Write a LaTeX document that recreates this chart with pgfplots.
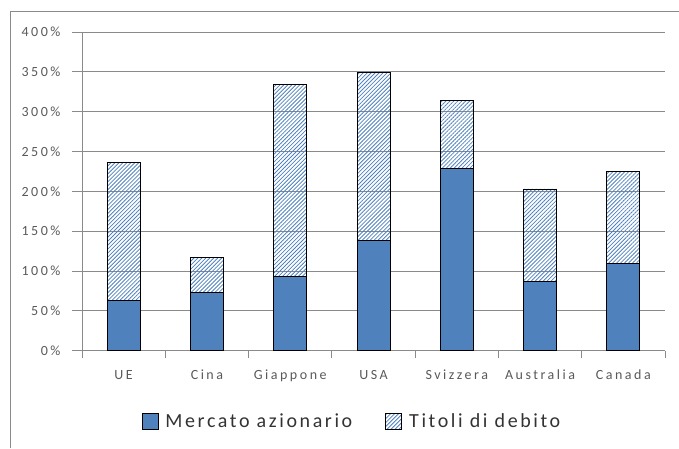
\documentclass[border=0pt]{standalone}
\usepackage{pgfplots}
\pgfplotsset{compat=1.18}
\usepackage{fontspec}
\setmainfont{Carlito}
\newfontfamily\tickfont[LetterSpace=18]{Carlito}
\newfontfamily\legfont[LetterSpace=13]{Carlito}
\usetikzlibrary{patterns.meta}

\definecolor{barblue}{HTML}{4F81BD}
\definecolor{gridgray}{HTML}{8A8A8A}
\definecolor{ticktxt}{HTML}{595959}
\definecolor{legtxt}{HTML}{333333}

\begin{document}
\begin{tikzpicture}
\useasboundingbox (0,0) rectangle (679pt,448pt);
% outer chart frame (only left and top edges visible)
\draw[gridgray, line width=0.8pt] (10.5pt,0) -- (10.5pt,437pt) -- (679pt,437pt);

\begin{axis}[
    at={(82pt,97.3pt)}, anchor=south west,
    scale only axis,
    width=583pt, height=318.7pt,
    ybar stacked,
    bar width=33pt,
    xmin=-0.5, xmax=6.5,
    ymin=0, ymax=400,
    axis x line*=bottom,
    axis y line*=left,
    axis line style={gridgray, line width=0.9pt},
    xtick={0,...,6},
    xticklabels={UE, Cina, Giappone, USA, Svizzera, Australia, Canada},
    xtick style={draw=none},
    extra x ticks={-0.5,0.5,...,6.5},
    extra x tick labels={},
    extra x tick style={major tick length=7pt,
        xtick style={draw=gridgray, line width=0.9pt}},
    ytick={0,50,...,400},
    yticklabels={0\%,50\%,100\%,150\%,200\%,250\%,300\%,350\%,400\%},
    major tick length=10pt,
    tick align=outside,
    ytick style={gridgray, line width=0.9pt},
    ymajorgrids,
    grid style={gridgray, line width=0.9pt},
    ticklabel style={font=\tickfont\fontsize{14}{16}\selectfont, text=ticktxt},
    xticklabel style={yshift=-6pt},
    yticklabel style={xshift=-8pt},
    legend columns=2,
    legend style={at={(0.463,-0.2206)}, anchor=center, draw=none, fill=none,
        font=\legfont\fontsize{20}{24}\selectfont, text=legtxt,
        /tikz/every even column/.append style={column sep=31pt}},
    sqleg/.style={legend image code/.code={
        \draw[##1, line width=1pt] (0pt,-8pt) rectangle (16pt,8pt);
        \path (21pt,0pt);}},
]
\addplot[fill=barblue, draw=black, line width=0.9pt, sqleg] coordinates {
    (0,63) (1,73) (2,93) (3,138) (4,229) (5,87) (6,110)};
\addplot[pattern={Lines[angle=45, distance=2.8pt, line width=0.8pt]},
    pattern color=barblue, draw=black, line width=0.9pt, sqleg] coordinates {
    (0,173) (1,44) (2,241) (3,211) (4,85) (5,116) (6,115)};
\legend{Mercato azionario, Titoli di debito}
\end{axis}
\end{tikzpicture}
\end{document}
